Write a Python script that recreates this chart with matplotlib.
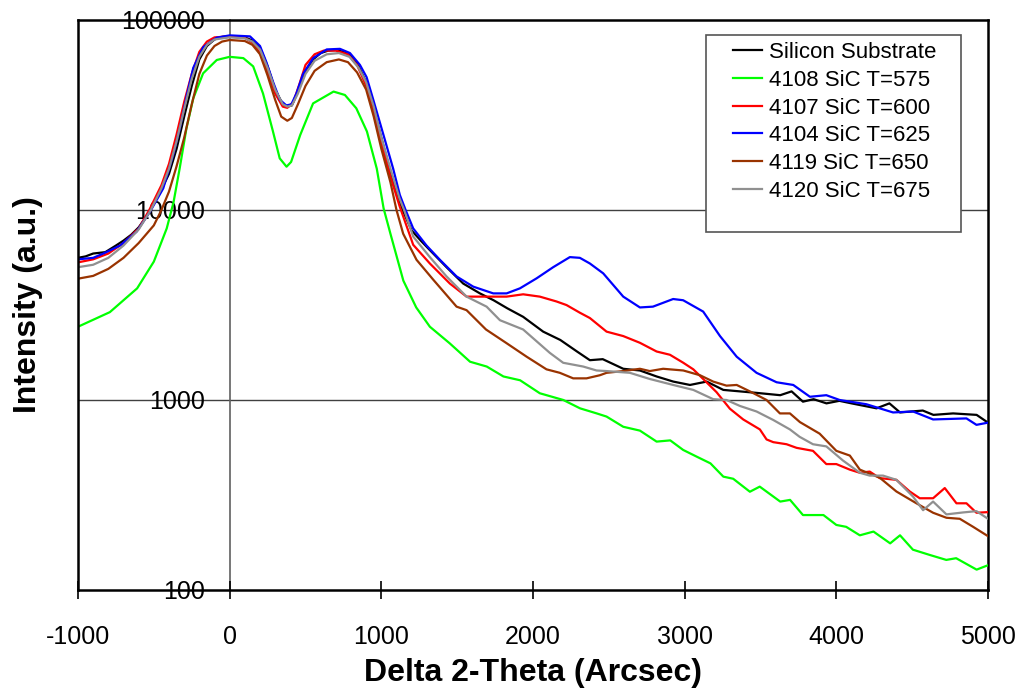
import matplotlib
matplotlib.use("Agg")
import matplotlib.pyplot as plt
from matplotlib.patches import Rectangle

plt.rcParams['font.family'] = ['Liberation Sans', 'DejaVu Sans']

# Silicon Substrate
x_si = [-1000, -950, -900, -820, -750, -700, -650, -600, -550, -500, -450, -400, -350, -300, -250,
        -200, -150, -100, -50, 0, 100, 150, 200, 250, 300, 350, 380, 410, 450, 500, 550, 600, 650,
        700, 750, 800, 850, 900, 950, 1000, 1050, 1100, 1140, 1200, 1260, 1320, 1430, 1540, 1650,
        1740, 1830, 1935, 2067, 2180, 2290, 2375, 2460, 2595, 2705, 2815, 2925, 3035, 3145, 3255,
        3365, 3475, 3630, 3705, 3780, 3850, 3935, 4020, 4100, 4265, 4350, 4420, 4570, 4640, 4770,
        4925, 5000]
y_si = [5600, 5700, 5900, 6000, 6500, 6900, 7400, 8100, 9200, 10800, 12800, 15500, 21000, 31000,
        45000, 62000, 73000, 79000, 81500, 82000, 81000, 78000, 71500, 57000, 43000, 36000, 35000,
        35500, 42000, 54000, 62000, 67000, 69000, 69500, 68000, 65000, 57000, 47000, 34000, 24000,
        17000, 12500, 10000, 7800, 6900, 6150, 5000, 4100, 3640, 3350, 3040, 2740, 2290, 2070, 1800,
        1620, 1640, 1460, 1430, 1330, 1250, 1200, 1250, 1130, 1110, 1090, 1060, 1110, 980, 1010,
        960, 990, 960, 904, 960, 860, 880, 835, 850, 835, 760]

# 4108 SiC T=575
x_575 = [-1000, -790, -610, -500, -415, -370, -330, -285, -240, -175, -85, 0, 90, 155, 220, 285,
         330, 375, 405, 465, 550, 685, 760, 835, 905, 970, 1015, 1060, 1145, 1230, 1320, 1450,
         1585, 1695, 1805, 1915, 2045, 2200, 2310, 2420, 2485, 2595, 2705, 2815, 2905, 2990, 3080,
         3170, 3255, 3320, 3430, 3495, 3630, 3695, 3780, 3915, 4000, 4065, 4155, 4245, 4355, 4420,
         4505, 4615, 4725, 4790, 4925, 5000]
y_575 = [2430, 2900, 3870, 5350, 8000, 11000, 16500, 26900, 38700, 52400, 61600, 64000, 63000,
         57000, 41000, 26000, 18700, 16900, 17900, 24800, 36400, 42000, 40300, 34300, 25900, 16500,
         10200, 7500, 4250, 3070, 2430, 1990, 1590, 1500, 1330, 1270, 1085, 1000, 904, 850, 818,
         723, 690, 604, 613, 546, 503, 464, 395, 385, 329, 350, 292, 298, 248, 248, 220, 215, 194,
         203, 176, 194, 163, 153, 144, 147, 128, 135]

# 4107 SiC T=600
x_600 = [-1000, -900, -800, -700, -600, -530, -450, -400, -350, -300, -250, -200, -150, -100, 0,
         100, 150, 200, 250, 300, 350, 380, 420, 460, 500, 560, 620, 700, 780, 840, 900, 950, 1000,
         1060, 1120, 1210, 1320, 1452, 1562, 1826, 1935, 2045, 2155, 2221, 2309, 2375, 2485, 2595,
         2705, 2815, 2903, 2991, 3057, 3122, 3210, 3298, 3386, 3496, 3540, 3584, 3672, 3738, 3846,
         3934, 4000, 4089, 4155, 4220, 4286, 4396, 4484, 4550, 4638, 4715, 4792, 4858, 4924, 5000]
y_600 = [5300, 5500, 5900, 6700, 8000, 10000, 13500, 17500, 25000, 37000, 52000, 68000, 77000,
         81000, 82000, 80500, 76000, 67000, 53000, 41000, 35000, 34500, 37000, 46000, 58000, 66000,
         69000, 69000, 66000, 58000, 45000, 32000, 22500, 15000, 10500, 6560, 5230, 4100, 3500,
         3500, 3600, 3500, 3300, 3160, 2880, 2700, 2290, 2170, 2000, 1800, 1730, 1570, 1450, 1290,
         1100, 900, 790, 700, 620, 600, 585, 560, 540, 460, 460, 430, 414, 420, 388, 380, 330, 304,
         304, 344, 286, 286, 255, 257]

# 4104 SiC T=625
x_625 = [-1000, -900, -833, -723, -613, -525, -438, -372, -328, -283, -240, -174, -86, 0, 134, 200,
         242, 287, 331, 374, 407, 440, 484, 551, 640, 727, 793, 859, 903, 947, 1013, 1078, 1122,
         1160, 1210, 1298, 1386, 1496, 1606, 1738, 1826, 1914, 2024, 2133, 2243, 2309, 2375, 2463,
         2595, 2705, 2791, 2924, 2990, 3122, 3233, 3343, 3474, 3606, 3716, 3826, 3934, 4022, 4198,
         4374, 4506, 4638, 4858, 4924, 5000]
y_625 = [5500, 5600, 5900, 6500, 7700, 9800, 13000, 19500, 27000, 40000, 56000, 72000, 80700, 83000,
         82000, 73000, 60000, 47000, 38000, 35500, 36000, 41000, 52000, 63000, 70000, 70500, 67000,
         58000, 50000, 38000, 25000, 16500, 12000, 10000, 8000, 6500, 5470, 4470, 3950, 3640, 3640,
         3870, 4370, 5000, 5650, 5600, 5230, 4640, 3500, 3070, 3100, 3400, 3350, 2920, 2170, 1690,
         1390, 1240, 1200, 1040, 1060, 1000, 950, 860, 870, 790, 800, 740, 760]

# 4119 SiC T=650
x_650 = [-1000, -900, -800, -700, -600, -500, -450, -400, -350, -300, -250, -200, -150, -100, -50,
         0, 100, 150, 200, 250, 300, 340, 380, 410, 450, 500, 560, 640, 720, 780, 840, 900, 950,
         1000, 1060, 1100, 1144, 1232, 1342, 1496, 1562, 1690, 1826, 1958, 2089, 2177, 2265, 2353,
         2441, 2485, 2595, 2705, 2770, 2858, 2991, 3101, 3188, 3276, 3343, 3430, 3540, 3628, 3694,
         3760, 3890, 4000, 4089, 4155, 4286, 4396, 4528, 4638, 4726, 4814, 4902, 5000]
y_650 = [4350, 4500, 4900, 5600, 6700, 8300, 10000, 12500, 17000, 24000, 36000, 52000, 65000,
         73000, 77000, 78500, 77500, 74000, 66000, 51000, 38000, 31000, 29500, 30500, 36000, 45000,
         54000, 60000, 62000, 60000, 53000, 43000, 31000, 21000, 14000, 10000, 7500, 5470, 4300,
         3100, 2970, 2350, 1990, 1690, 1450, 1390, 1300, 1300, 1350, 1390, 1420, 1460, 1420, 1460,
         1430, 1350, 1250, 1190, 1200, 1110, 1000, 850, 850, 765, 665, 540, 510, 430, 390, 330,
         286, 255, 240, 237, 215, 192]

# 4120 SiC T=675
x_675 = [-1000, -900, -800, -700, -600, -520, -450, -400, -350, -300, -250, -200, -150, -100, 0,
         100, 150, 200, 250, 300, 350, 380, 410, 450, 500, 560, 640, 720, 790, 850, 900, 950, 1000,
         1060, 1120, 1150, 1210, 1320, 1430, 1562, 1694, 1782, 1935, 2111, 2199, 2331, 2419, 2485,
         2639, 2770, 2924, 3057, 3188, 3276, 3365, 3474, 3584, 3694, 3758, 3846, 3934, 4044, 4155,
         4220, 4308, 4396, 4506, 4572, 4638, 4726, 4836, 4924, 5000]
y_675 = [5000, 5150, 5600, 6500, 7900, 10000, 13000, 16500, 23000, 34000, 49000, 64000, 74000,
         79000, 81000, 80000, 77000, 70000, 56000, 43000, 36000, 35000, 35500, 41000, 52000, 61000,
         66000, 67000, 64000, 56000, 47000, 35000, 24000, 16500, 11500, 10000, 7250, 5650, 4470,
         3500, 3100, 2630, 2350, 1770, 1570, 1500, 1430, 1420, 1390, 1290, 1200, 1130, 1010, 1000,
         930, 870, 785, 700, 640, 585, 570, 480, 414, 400, 400, 380, 310, 263, 292, 250, 256, 260,
         237]

series = [
    ("Silicon Substrate", x_si, y_si, "black"),
    ("4108 SiC T=575", x_575, y_575, "#00ff00"),
    ("4107 SiC T=600", x_600, y_600, "#ff0000"),
    ("4104 SiC T=625", x_625, y_625, "#0000ff"),
    ("4119 SiC T=650", x_650, y_650, "#993300"),
    ("4120 SiC T=675", x_675, y_675, "#909090"),
]

x_ticks = [-1000, 0, 1000, 2000, 3000, 4000, 5000]
y_ticks = [100, 1000, 10000, 100000]

fig = plt.figure(figsize=(10.25, 6.92), dpi=100)
ax = fig.add_axes([0.0761, 0.1474, 0.8878, 0.8237])

for name, xs, ys, col in series:
    ax.plot(xs, ys, color=col, lw=1.6, label=name, zorder=3)

ax.set_yscale('log')
ax.set_xlim(-1000, 5000)
ax.set_ylim(100, 100000)

for v in [1000, 10000]:
    ax.axhline(v, color='#404040', lw=1.0, zorder=1)

# y axis crosses at x = 0 like the original
ax.spines['left'].set_position(('data', 0))
ax.spines['left'].set_color('#606060')
ax.spines['left'].set_linewidth(1.2)
ax.spines['left'].set_zorder(1)
for s in ['top', 'right', 'bottom']:
    ax.spines[s].set_linewidth(1.8)
ax.axvline(-1000, color='black', lw=1.8, clip_on=False, zorder=5)

ax.set_yticks(y_ticks)
ax.set_yticklabels([str(v) for v in y_ticks])
ax.yaxis.set_minor_locator(matplotlib.ticker.NullLocator())
ax.tick_params(axis='y', length=0, pad=18, labelsize=18)

ax.set_xticks(x_ticks)
ax.set_xticklabels([str(v) for v in x_ticks])
ax.tick_params(axis='x', direction='inout', length=13, width=1.2, pad=19, labelsize=18)

ax.set_xlabel('Delta 2-Theta (Arcsec)', fontsize=23, fontweight='bold')
ax.xaxis.set_label_coords(0.5, -0.12)
ax.set_ylabel('Intensity (a.u.)', fontsize=23, fontweight='bold')
ax.yaxis.set_label_coords(-0.038, 0.5)

ax.add_patch(Rectangle((0.690, 0.628), 0.280, 0.346, transform=ax.transAxes,
                       facecolor='white', edgecolor='#555555', lw=1.2, zorder=6))
leg = ax.legend(loc='upper left', bbox_to_anchor=(0.7198, 0.961), frameon=False,
                fontsize=16, borderpad=0, borderaxespad=0, handlelength=1.3,
                handletextpad=0.3, labelspacing=0.3)
leg.set_zorder(7)

fig.savefig('out.png', dpi=100)
